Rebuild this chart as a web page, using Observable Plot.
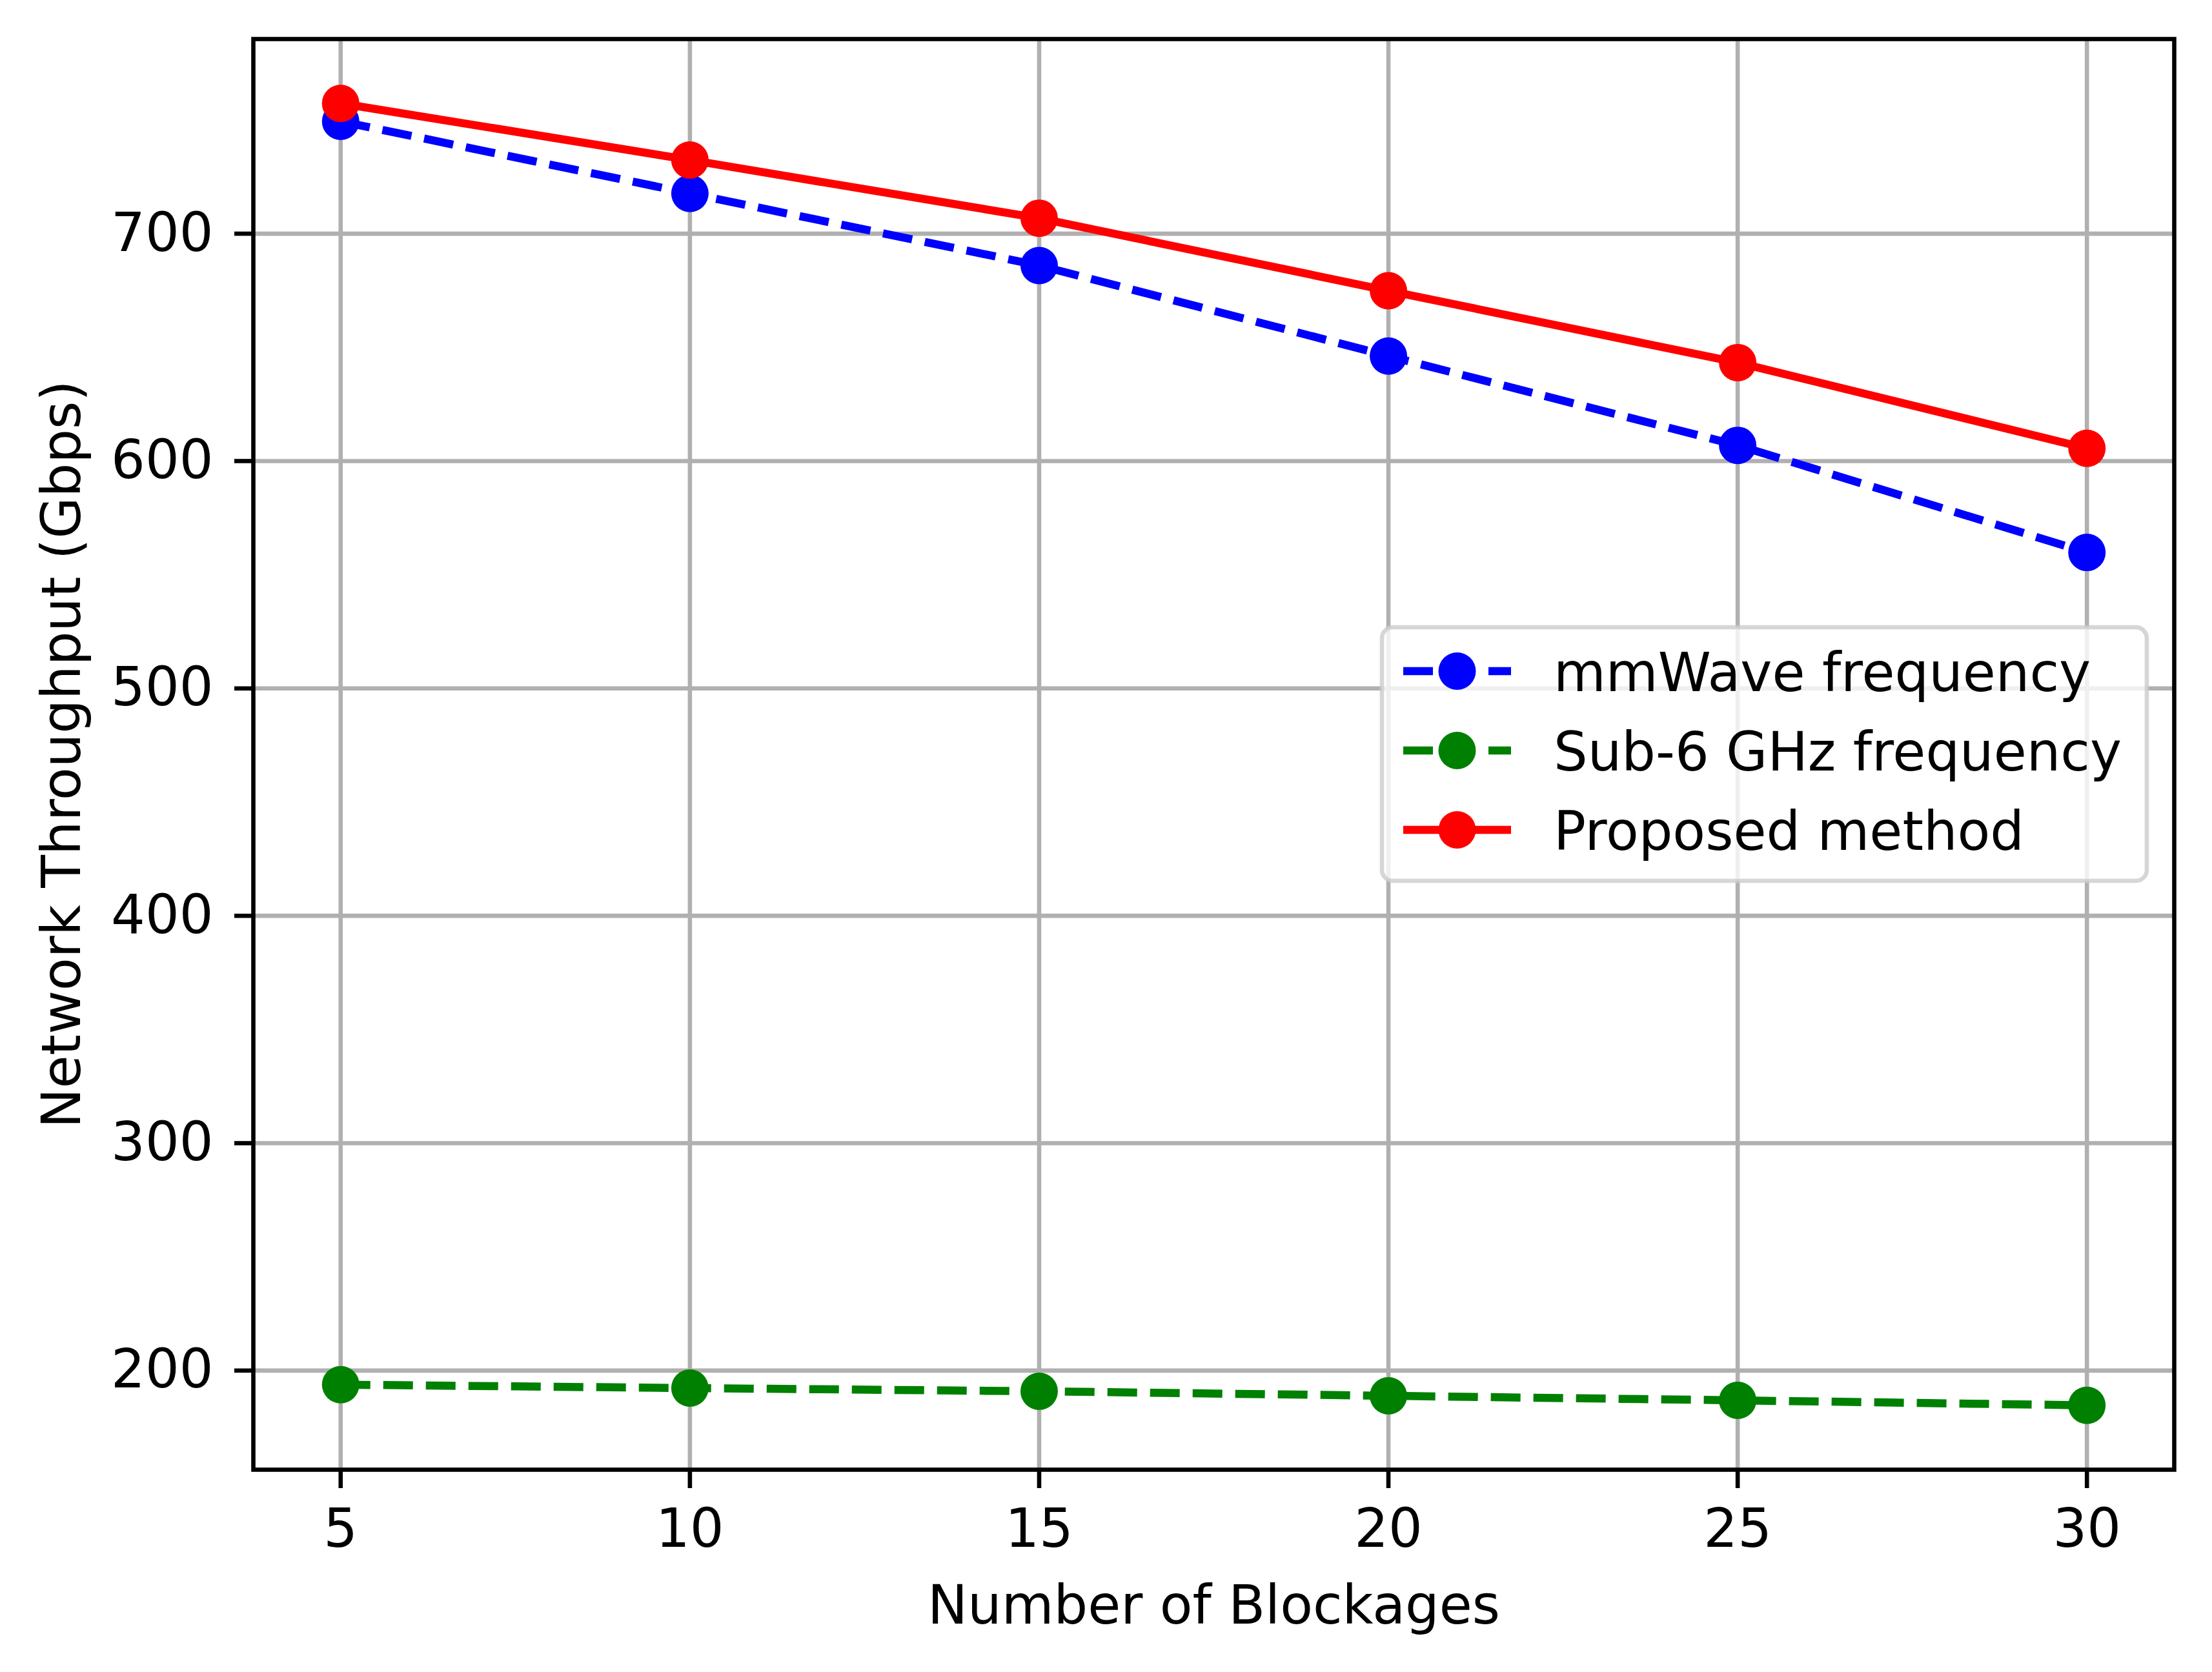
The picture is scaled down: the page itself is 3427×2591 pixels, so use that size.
<!DOCTYPE html>
<html>
<head>
<meta charset="utf-8">
<script src="https://cdn.jsdelivr.net/npm/d3@7"></script>
<script src="https://cdn.jsdelivr.net/npm/@observablehq/plot@0.6"></script>
<style>
  html, body { margin: 0; padding: 0; background: #ffffff; }
  #chart svg { display: block; }
</style>
</head>
<body>
<div id="chart"></div>
<script>
// ---- data ----
const blockages = [5, 10, 15, 20, 25, 30];
const mmWave   = [749.4, 717.7, 686.0, 646.2, 606.9, 559.8];
const sub6     = [193.8, 192.3, 190.9, 188.9, 186.9, 184.7];
const proposed = [757.3, 732.4, 706.8, 674.9, 643.3, 605.6];

const xTicks = [5, 10, 15, 20, 25, 30];
const yTicks = [200, 300, 400, 500, 600, 700];

const seriesNames  = ["mmWave frequency", "Sub-6 GHz frequency", "Proposed method"];
const seriesColors = ["#0000ff", "#008000", "#ff0000"];
const seriesDash   = ["46,20", "46,20", null];

const xLabel = "Number of Blockages";
const yLabel = "Network Throughput (Gbps)";

// ---- layout ----
const W = 3427, H = 2591;
const mL = 392, mR = 59, mT = 60, mB = 314;
const lw = 12.5, gridW = 6.6, axW = 6.6, dotR = 29;
const font = "DejaVu Sans";
const fs = 83;

const seriesValues = [mmWave, sub6, proposed];
const table = seriesNames.flatMap((name, i) =>
  blockages.map((b, j) => ({series: name, x: b, y: seriesValues[i][j]})));

const marks = [
  Plot.gridX({ticks: xTicks, stroke: "#b0b0b0", strokeOpacity: 1, strokeWidth: gridW}),
  Plot.gridY({ticks: yTicks, stroke: "#b0b0b0", strokeOpacity: 1, strokeWidth: gridW})
];
seriesNames.forEach((name, i) => {
  const d = table.filter(r => r.series === name);
  const lineOpts = {x: "x", y: "y", stroke: seriesColors[i], strokeWidth: lw,
    strokeLinejoin: "round", strokeLinecap: seriesDash[i] ? "butt" : "square"};
  if (seriesDash[i]) lineOpts.strokeDasharray = seriesDash[i];
  marks.push(Plot.line(d, lineOpts));
  marks.push(Plot.dot(d, {x: "x", y: "y", fill: seriesColors[i], r: dotR}));
});
marks.push(Plot.frame({stroke: "black", strokeWidth: axW}));
marks.push(Plot.axisX({ticks: xTicks, tickSize: 29, tickPadding: 32, strokeWidth: axW, label: null, tickFormat: d => String(d)}));
marks.push(Plot.axisY({ticks: yTicks, tickSize: 29, tickPadding: 33, strokeWidth: axW, label: null, tickFormat: d => String(d)}));
marks.push(Plot.text([xLabel], {frameAnchor: "bottom", dy: 238, lineAnchor: "bottom", textAnchor: "middle", text: d => d, fill: "black"}));
marks.push(Plot.text([yLabel], {frameAnchor: "left", dx: -269, rotate: -90, lineAnchor: "bottom", textAnchor: "middle", text: d => d, fill: "black"}));

const plot = Plot.plot({
  width: W, height: H,
  marginLeft: mL, marginRight: mR, marginTop: mT, marginBottom: mB,
  x: {type: "linear", domain: [3.75, 31.25]},
  y: {type: "linear", domain: [156.4, 785.6]},
  style: {fontFamily: font, fontSize: fs + "px", background: "#ffffff", color: "black", overflow: "visible"},
  marks
});
document.getElementById("chart").append(plot);

// ---- legend (center right, inside axes) ----
const svg = d3.select(plot);
const boxW = 1185, boxH = 393;
const boxRight = W - mR - 42;
const boxX = boxRight - boxW;
const boxY = mT + (H - mT - mB) / 2 - boxH / 2;
const lg = svg.append("g").attr("class", "legend");
lg.append("rect")
  .attr("x", boxX).attr("y", boxY).attr("width", boxW).attr("height", boxH)
  .attr("rx", 17).attr("ry", 17)
  .attr("fill", "#ffffff").attr("fill-opacity", 0.8)
  .attr("stroke", "#cccccc").attr("stroke-opacity", 0.8).attr("stroke-width", axW);
seriesNames.forEach((name, i) => {
  const cy = boxY + 68 + i * 123;
  const x0 = boxX + 33, x1 = boxX + 200;
  const ln = lg.append("line")
    .attr("x1", x0).attr("x2", x1).attr("y1", cy).attr("y2", cy)
    .attr("stroke", seriesColors[i]).attr("stroke-width", lw)
    .attr("stroke-linecap", seriesDash[i] ? "butt" : "square");
  if (seriesDash[i]) ln.attr("stroke-dasharray", seriesDash[i]);
  if (!seriesDash[i]) ln.attr("x1", x0 + lw / 2).attr("x2", x1 - lw / 2);
  lg.append("circle").attr("cx", (x0 + x1) / 2).attr("cy", cy).attr("r", dotR).attr("fill", seriesColors[i]);
  lg.append("text")
    .attr("x", boxX + 266).attr("y", cy + 31)
    .attr("text-anchor", "start")
    .attr("font-family", font).attr("font-size", fs).attr("fill", "black")
    .text(name);
});
</script>
</body>
</html>
